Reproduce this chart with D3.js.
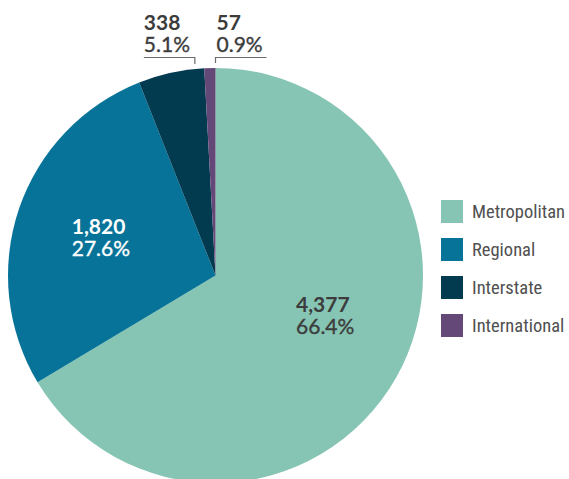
<!DOCTYPE html>
<html>
<head>
<meta charset="utf-8">
<script src="https://cdn.jsdelivr.net/npm/d3@7/dist/d3.min.js"></script>
<style>
  html, body { margin: 0; padding: 0; background: #ffffff; }
  svg { display: block; }
</style>
</head>
<body>
<div id="chart"></div>
<script>
// Trips by destination type
const categories = ["Metropolitan", "Regional", "Interstate", "International"];
const values = [4377, 1820, 338, 57];
const colors = ["#86c5b4", "#087399", "#023a4f", "#634878"];

const width = 569, height = 479;
const cx = 215.5, cy = 275.5, radius = 207.5;

const svg = d3.select("#chart").append("svg")
  .attr("width", width).attr("height", height);

const total = d3.sum(values);
const fmtNum = d3.format(",");
const fmtPct = d3.format(".1%");

const color = d3.scaleOrdinal().domain(categories).range(colors);

const pie = d3.pie().sort(null).value(d => d.value);
const arcs = pie(categories.map((c, i) => ({ name: c, value: values[i] })));

const arc = d3.arc().innerRadius(0).outerRadius(radius);

const g = svg.append("g").attr("transform", `translate(${cx},${cy})`);

g.selectAll("path.slice")
  .data(arcs)
  .join("path")
  .attr("class", "slice")
  .attr("d", arc)
  .attr("fill", d => color(d.data.name));

const labelFont = "Lato, 'Open Sans', sans-serif";

// Labels that sit inside the large slices
const insideLayout = {
  Metropolitan: { r: 118, shift: [7, -19], fill: "#3c3c3c" },
  Regional: { r: 121, shift: [0, 0], fill: "#ffffff" }
};

function drawLabelPair(sel, x, y, d, fill) {
  const t = sel.append("text")
    .attr("x", x).attr("y", y)
    .attr("font-family", labelFont)
    .attr("font-size", 21)
    .attr("fill", fill);
  t.append("tspan")
    .attr("x", x)
    .attr("font-weight", 700)
    .text(fmtNum(d.data.value));
  t.append("tspan")
    .attr("x", x).attr("dy", 22)
    .attr("font-weight", 400)
    .attr("stroke", fill)
    .attr("stroke-width", 0.35)
    .text(fmtPct(d.data.value / total));
  return t;
}

arcs.forEach(d => {
  const lay = insideLayout[d.data.name];
  if (!lay) return;
  const [mx, my] = d3.arc().innerRadius(lay.r).outerRadius(lay.r).centroid(d);
  const t = drawLabelPair(g, 0, 0, d, lay.fill);
  // centre the two-line block on the chosen point, text left aligned
  const bb = t.node().getBBox();
  const ox = mx - bb.width / 2 + lay.shift[0];
  const oy = my - bb.height / 2 + lay.shift[1];
  t.attr("transform", `translate(${ox - bb.x},${oy - bb.y})`);
});

// Callouts for the thin slices above the pie
const calloutLayout = {
  Interstate: { back: 2.6, dir: -1 },
  International: { back: 0, dir: 1 }
};
const lineY = -radius - 10.5;   // elbow height above the pie top
const lineLen = 51;
const gap = 5;

arcs.forEach(d => {
  const lay = calloutLayout[d.data.name];
  if (!lay) return;
  const a = d.endAngle - lay.back * Math.PI / 180;
  const px = radius * Math.sin(a);
  const py = -radius * Math.cos(a);
  const x1 = px + lay.dir * lineLen;
  g.append("path")
    .attr("d", `M${px},${py - gap}V${lineY}H${x1}`)
    .attr("fill", "none")
    .attr("stroke", "#6b6b6b")
    .attr("stroke-width", 1.2);
  const tx = Math.min(px, x1) + (lay.dir > 0 ? 1 : 0);
  drawLabelPair(g, tx, lineY - 28, d, "#3c3c3c");
});

// Legend
const legend = svg.append("g").attr("transform", "translate(441,200)");
const rows = legend.selectAll("g")
  .data(categories)
  .join("g")
  .attr("transform", (d, i) => `translate(0,${i * 38})`);
rows.append("rect")
  .attr("width", 22).attr("height", 23)
  .attr("fill", d => color(d));
rows.append("text")
  .attr("x", 31).attr("y", 18)
  .attr("font-family", "'Liberation Sans Narrow', 'Roboto Condensed', 'Arial Narrow', sans-serif")
  .attr("font-size", 18.5)
  .attr("fill", "#505050")
  .text(d => d);
</script>
</body>
</html>
